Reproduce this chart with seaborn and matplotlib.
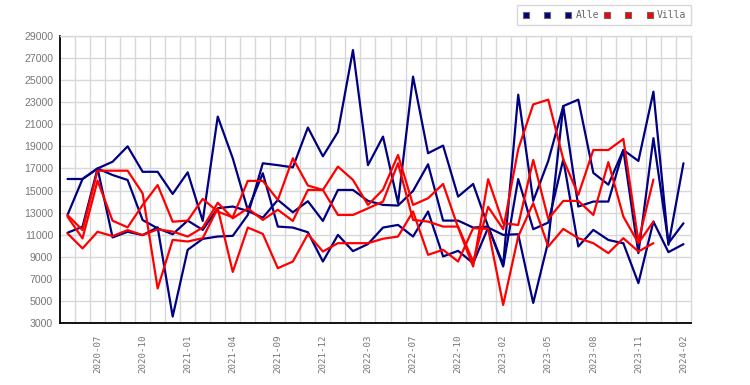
import matplotlib
matplotlib.use("Agg")
import matplotlib.pyplot as plt
import seaborn as sns
import pandas as pd
from matplotlib.lines import Line2D

sns.set_style("white")
plt.rcParams['font.family'] = ['Liberation Sans', 'DejaVu Sans']

# periods on the x axis (categorical, one slot each)
months = ['2020-05', '2020-06', '2020-07', '2020-08', '2020-09', '2020-10', '2020-11',
          '2020-12', '2021-01', '2021-02', '2021-03', '2021-04', '2021-05', '2021-07',
          '2021-09', '2021-10', '2021-11', '2021-12', '2022-01', '2022-02', '2022-03',
          '2022-04', '2022-06', '2022-07', '2022-08', '2022-09', '2022-10', '2022-11',
          '2022-12', '2023-02', '2023-03', '2023-04', '2023-05', '2023-06', '2023-07',
          '2023-08', '2023-09', '2023-10', '2023-11', '2023-12', '2024-01', '2024-02']

# "Alle" series (navy)
alle_1 = [12800, 16050, 17000, 16410, 15960, 12340, 11590, 11060, 12290, 11450, 13410, 13560,
          13160, 12550, 14160, 13040, 14040, 12260, 15060, 15060, 14070, 13710, 13650, 14970,
          17380, 12290, 12290, 11660, 11750, 8140, 16050, 11510, 12110, 17830, 9950, 11450,
          10540, 10240, 6640, 12200, 9440, 10160]
alle_2 = [11190, 11740, 17000, 17610, 19000, 16700, 16700, 14700, 16650, 12260, 21690, 17920,
          13250, 16570, 11750, 11660, 11240, 8590, 11000, 9530, 10170, 11660, 11900, 10850,
          13110, 9050, 9560, 8440, 11660, 11000, 11060, 4850, 10400, 22640, 13560, 14010,
          14010, 18670, 9350, 19740, 10250, 12050]
alle_3 = [16050, 16050, 17000, 10770, 11280, 10980, 11680, 3620, 9650, 10640, 10850, 10910,
          12800, 17470, 17300, 17100, 20700, 18100, 20300, 27700, 17300, 19880, 13860, 25300,
          18380, 19070, 14460, 15600, 11750, 8320, 23670, 14070, 17680, 22640, 23220, 16600,
          15540, 18670, 17680, 23940, 10100, 17470]

# "Villa" series (red), end at 2023-12
villa_1 = [12790, 11430, 16800, 16800, 16800, 14750, 6160, 10550, 10400, 10700, 13400, 7650,
           11660, 11090, 7990, 8590, 11060, 9500, 10250, 10250, 10250, 10650, 10850, 13110,
           9200, 9650, 8590, 11600, 11540, 4670, 10850, 13860, 9950, 11540, 10700, 10250,
           9350, 10700, 9500, 10250]
villa_2 = [12640, 10680, 15900, 12280, 11680, 13700, 15500, 12190, 12290, 14250, 13100, 12590,
           15880, 15880, 14160, 17920, 15460, 15060, 17170, 15970, 13710, 15090, 18220, 13710,
           14310, 15600, 11660, 8140, 16030, 12050, 11900, 17770, 12440, 14070, 14070, 12800,
           17570, 12650, 10250, 12200]
villa_3 = [11130, 9780, 11280, 10890, 11430, 10980, 11500, 11300, 10850, 11660, 13900, 12500,
           13400, 12350, 13270, 12260, 15060, 15060, 12800, 12800, 13400, 14010, 17470, 12350,
           12200, 11750, 11750, 8590, 13530, 11510, 18740, 22790, 23220, 17830, 14610, 18670,
           18670, 19670, 10400, 16000]

navy = '#000080'
red = '#ff0000'
series = [(alle_1, navy), (alle_2, navy), (alle_3, navy),
          (villa_1, red), (villa_2, red), (villa_3, red)]

fig = plt.figure(figsize=(7.5, 3.85), dpi=100)
ax = fig.add_axes([0.08, 0.16, 0.8413, 0.7473])

for vals, col in series:
    df = pd.DataFrame({'x': range(len(vals)), 'y': vals})
    sns.lineplot(data=df, x='x', y='y', color=col, linewidth=1.6, ax=ax, legend=False)

ax.set_xlim(-0.5, 41.5)
ax.set_ylim(3000, 29000)
ax.set_yticks(range(3000, 29001, 2000))
ax.set_xticks([k + 0.5 for k in range(41)], minor=True)
ax.set_xticks(range(2, 42, 3))
ax.set_xticklabels([months[k] for k in range(2, 42, 3)], rotation=90,
                   family='DejaVu Sans Mono', fontsize=6.6, color='#777777')
ax.tick_params(axis='y', labelsize=7.6, colors='#777777', length=0, pad=5)
ax.tick_params(axis='x', which='both', length=0, pad=8)
ax.grid(False)
ax.grid(True, axis='y', color='#d8d8d8', linewidth=1)
ax.grid(True, axis='x', which='minor', color='#d8d8d8', linewidth=1)
ax.set_axisbelow(True)
ax.set_xlabel('')
ax.set_ylabel('')
for s in ['top', 'right']:
    ax.spines[s].set_color('#d8d8d8')
    ax.spines[s].set_linewidth(1)
for s in ['left', 'bottom']:
    ax.spines[s].set_color('black')
    ax.spines[s].set_linewidth(1.3)

handles = [Line2D([], [], linestyle='none', marker='s', markersize=5,
                  markerfacecolor=c, markeredgecolor='#666666', markeredgewidth=0.8)
           for c in [navy, navy, navy, red, red, red]]
labels = [' ', ' ', 'Alle', ' ', ' ', 'Villa']
leg = fig.legend(handles, labels, ncol=6, loc='upper right', bbox_to_anchor=(0.921, 0.986),
                 prop={'family': 'DejaVu Sans Mono', 'size': 7}, handlelength=0.8,
                 handletextpad=0.32, columnspacing=0.45, borderpad=0.5, borderaxespad=0,
                 fancybox=False, framealpha=1, edgecolor='#d8d8d8')
leg.get_frame().set_linewidth(1)
for t in leg.get_texts():
    t.set_color('#666666')

fig.savefig('out.png', dpi=100)
